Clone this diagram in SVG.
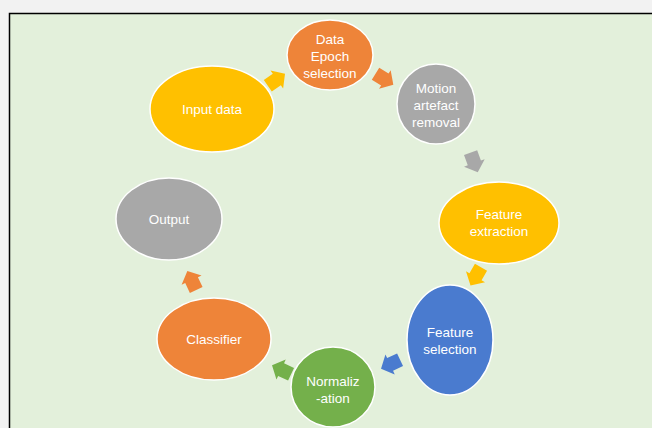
<svg xmlns="http://www.w3.org/2000/svg" width="652" height="428" viewBox="0 0 652 428">
<style>
.n{stroke:#ffffff;stroke-width:1.5}
.t{font-family:"Liberation Sans",Arial,sans-serif;font-size:13.5px;fill:#ffffff;text-anchor:middle}
.or{fill:#EE8439}.gy{fill:#A8A8A8}.yl{fill:#FFC000}.bl{fill:#4A7BCF}.gr{fill:#74B04B}
</style>
<defs>
<polygon id="arr" points="-10,-7 1,-7 1,-11 11,0 1,11 1,7 -10,7"/>
</defs>
<rect x="0" y="0" width="652" height="428" fill="#F2F2F2"/>
<rect x="9.5" y="13.5" width="660" height="430" fill="#E3F0DB" stroke="#000000" stroke-width="1.5"/>
<g id="connectors">
<use href="#arr" class="yl" transform="translate(276,80) rotate(-35)"/>
<use href="#arr" class="or" transform="translate(384,79) rotate(32)"/>
<use href="#arr" class="gy" transform="translate(474,162) rotate(70)"/>
<use href="#arr" class="yl" transform="translate(476,276) rotate(120)"/>
<use href="#arr" class="bl" transform="translate(391,364) rotate(155)"/>
<use href="#arr" class="gr" transform="translate(282,370) rotate(205)"/>
<use href="#arr" class="or" transform="translate(192,281) rotate(245)"/>
</g>
<g id="data-epoch">
<ellipse class="n or" cx="330" cy="55" rx="43" ry="35"/>
<text class="t" x="330" y="44">Data</text>
<text class="t" x="330" y="61">Epoch</text>
<text class="t" x="330" y="78">selection</text>
</g>
<g id="motion">
<ellipse class="n gy" cx="436" cy="104" rx="39" ry="40"/>
<text class="t" x="436" y="93">Motion</text>
<text class="t" x="436" y="110">artefact</text>
<text class="t" x="436" y="127">removal</text>
</g>
<g id="feature-extraction">
<ellipse class="n yl" cx="499" cy="223" rx="60" ry="41"/>
<text class="t" x="499" y="219">Feature</text>
<text class="t" x="499" y="236">extraction</text>
</g>
<g id="feature-selection">
<ellipse class="n bl" cx="450" cy="340" rx="43" ry="55"/>
<text class="t" x="450" y="337">Feature</text>
<text class="t" x="450" y="354">selection</text>
</g>
<g id="normalization">
<ellipse class="n gr" cx="333" cy="387" rx="42" ry="40"/>
<text class="t" x="333" y="386">Normaliz</text>
<text class="t" x="333" y="403">-ation</text>
</g>
<g id="classifier">
<ellipse class="n or" cx="214" cy="339" rx="57" ry="41"/>
<text class="t" x="214" y="344">Classifier</text>
</g>
<g id="output">
<ellipse class="n gy" cx="169" cy="219" rx="53" ry="41"/>
<text class="t" x="169" y="224">Output</text>
</g>
<g id="input-data">
<ellipse class="n yl" cx="212" cy="109" rx="62" ry="43"/>
<text class="t" x="212" y="114">Input data</text>
</g>
</svg>
